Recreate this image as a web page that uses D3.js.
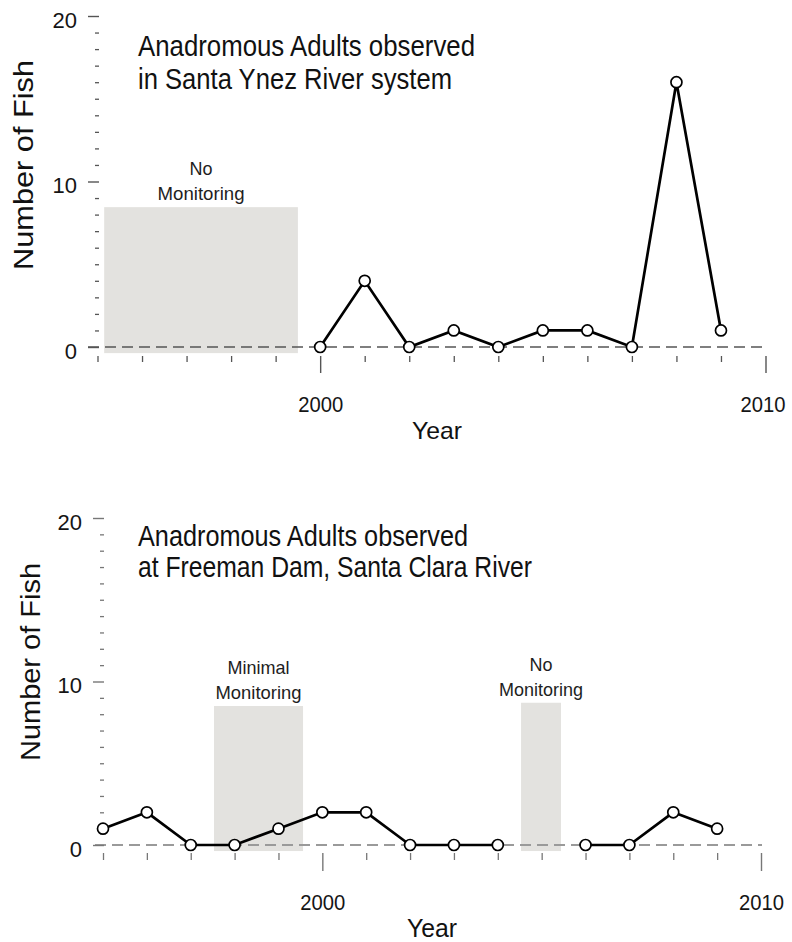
<!DOCTYPE html>
<html>
<head>
<meta charset="utf-8">
<script src="https://cdn.jsdelivr.net/npm/d3@7"></script>
<style>
  html, body { margin: 0; padding: 0; background: #ffffff; }
  svg { display: block; }
</style>
</head>
<body>
<svg id="chart" width="792" height="942"></svg>
<script>
// ---------------- DATA ----------------
const years = [1995, 1996, 1997, 1998, 1999, 2000, 2001, 2002, 2003, 2004, 2005, 2006, 2007, 2008, 2009];
const ynezCounts = [null, null, null, null, null, 0, 4, 0, 1, 0, 1, 1, 0, 16, 1];
const freemanCounts = [1, 2, 0, 0, 1, 2, 2, 0, 0, 0, null, 0, 0, 2, 1];

const yMajorTicks = [0, 10, 20];
const yMinorTicks = [1, 2, 3, 4, 5, 6, 7, 8, 9, 11, 12, 13, 14, 15, 16, 17, 18, 19];
const xMinorTicks = [1995, 1996, 1997, 1998, 1999, 2001, 2002, 2003, 2004, 2005, 2006, 2007, 2008, 2009];
const xMajorTicks = [2000, 2010];

const ynezTitle = ["Anadromous Adults observed", "in Santa Ynez River system"];
const freemanTitle = ["Anadromous Adults observed", "at Freeman Dam, Santa Clara River"];

const ynezGaps = [
  { start: 1995.15, end: 1999.5, top: 8.45, bottom: -0.37, label: ["No", "Monitoring"] }
];
const freemanGaps = [
  { start: 1997.53, end: 1999.56, top: 8.5, bottom: -0.37, label: ["Minimal", "Monitoring"] },
  { start: 2004.53, end: 2005.44, top: 8.7, bottom: -0.37, label: ["No", "Monitoring"] }
];

const yLabelText = "Number of Fish";
const xLabelText = "Year";

// ---------------- LAYOUT ----------------
const FONT = "'Liberation Sans', Arial, Helvetica, sans-serif";
const svg = d3.select("#chart");

const panels = [
  {
    title: ynezTitle, counts: ynezCounts, gaps: ynezGaps,
    xr: [97.5, 765.5], yr: [347, 16],
    axisX: 99, xAxisY: 356, minorX: 6, majorX: 17, xLabelY: 56, xLabelLen: 45,
    tickColor: "#555", zeroColor: "#555", zeroWidth: 1.5, zeroStart: 88, zeroEnd: 767,
    titleX: 138, titleBase: [56, 89], titleLen: [337, 314], titleSize: 29,
    yLab: { x: 33, y: 165, len: 210 },
    year: { x: 437, y: 439, size: 24, len: 50 },
    gapLen: [[23, 87]]
  },
  {
    title: freemanTitle, counts: freemanCounts, gaps: freemanGaps,
    xr: [103, 761], yr: [845, 518],
    axisX: 104, xAxisY: 853, minorX: 7, majorX: 18, xLabelY: 57, xLabelLen: 45,
    tickColor: "#777", zeroColor: "#9a9a9a", zeroWidth: 2, zeroStart: 95, zeroEnd: 762,
    titleX: 138, titleBase: [546, 577], titleLen: [330, 394], titleSize: 29,
    yLab: { x: 40, y: 662, len: 198 },
    year: { x: 432, y: 937, size: 25, len: 50 },
    gapLen: [[62, 86], [23, 84]]
  }
];

const RIGHT_LIMIT = 785;

panels.forEach(p => {
  const x = d3.scaleLinear().domain([1995, 2010]).range(p.xr);
  const y = d3.scaleLinear().domain([0, 20]).range(p.yr);
  const g = svg.append("g");

  // shaded monitoring-gap boxes
  p.gaps.forEach((gap, i) => {
    g.append("rect")
      .attr("x", x(gap.start))
      .attr("y", y(gap.top))
      .attr("width", x(gap.end) - x(gap.start))
      .attr("height", y(gap.bottom) - y(gap.top))
      .attr("fill", "#e3e2df");
    const cx = (x(gap.start) + x(gap.end)) / 2;
    const top = y(gap.top);
    g.append("text")
      .attr("x", cx).attr("y", top - 32)
      .attr("text-anchor", "middle")
      .attr("font-family", FONT).attr("font-size", 19).attr("fill", "#1e1e1e")
      .attr("textLength", p.gapLen[i][0]).attr("lengthAdjust", "spacingAndGlyphs")
      .text(gap.label[0]);
    g.append("text")
      .attr("x", cx).attr("y", top - 7)
      .attr("text-anchor", "middle")
      .attr("font-family", FONT).attr("font-size", 19).attr("fill", "#1e1e1e")
      .attr("textLength", p.gapLen[i][1]).attr("lengthAdjust", "spacingAndGlyphs")
      .text(gap.label[1]);
  });

  // dashed zero line
  g.append("line")
    .attr("x1", p.zeroStart).attr("x2", p.zeroEnd)
    .attr("y1", y(0)).attr("y2", y(0))
    .attr("stroke", p.zeroColor).attr("stroke-width", p.zeroWidth)
    .attr("stroke-dasharray", "11,6");

  // Y axis: minor ticks
  g.append("g")
    .attr("transform", `translate(${p.axisX},0)`)
    .call(d3.axisLeft(y).tickValues(yMinorTicks).tickSize(4).tickFormat(""))
    .call(a => a.select(".domain").remove())
    .call(a => a.selectAll("line").attr("stroke", p.tickColor).attr("stroke-width", 1.3));

  // Y axis: major ticks with labels
  g.append("g")
    .attr("transform", `translate(${p.axisX},0)`)
    .call(d3.axisLeft(y).tickValues(yMajorTicks).tickSize(11).tickFormat(d3.format("d")))
    .call(a => a.select(".domain").remove())
    .call(a => a.selectAll("line").attr("stroke", p.tickColor).attr("stroke-width", 1.4))
    .call(a => a.selectAll("text")
      .attr("x", -22).attr("dy", null).attr("y", 11)
      .attr("font-family", FONT).attr("font-size", 22).attr("fill", "#151515"));

  // X axis: minor ticks
  g.append("g")
    .attr("transform", `translate(0,${p.xAxisY})`)
    .call(d3.axisBottom(x).tickValues(xMinorTicks).tickSize(p.minorX).tickFormat(""))
    .call(a => a.select(".domain").remove())
    .call(a => a.selectAll("line").attr("stroke", p.tickColor).attr("stroke-width", 1.3));

  // X axis: major ticks with labels
  g.append("g")
    .attr("transform", `translate(0,${p.xAxisY})`)
    .call(d3.axisBottom(x).tickValues(xMajorTicks).tickSize(p.majorX).tickFormat(d3.format("d")))
    .call(a => a.select(".domain").remove())
    .call(a => a.selectAll("line").attr("stroke", p.tickColor).attr("stroke-width", 1.4))
    .call(a => a.selectAll("text")
      .attr("dy", null).attr("y", p.xLabelY)
      .attr("dx", d => Math.min(0, RIGHT_LIMIT - (x(d) + p.xLabelLen / 2)))
      .attr("font-family", FONT).attr("font-size", 21.5).attr("fill", "#151515")
      .attr("textLength", p.xLabelLen).attr("lengthAdjust", "spacingAndGlyphs"));

  // data line
  const pts = years.map((yr, i) => ({ year: yr, count: p.counts[i] }));
  const line = d3.line()
    .defined(d => d.count !== null)
    .x(d => x(d.year))
    .y(d => y(d.count));
  g.append("path")
    .datum(pts)
    .attr("d", line)
    .attr("fill", "none")
    .attr("stroke", "#000")
    .attr("stroke-width", 2.7);

  g.selectAll("circle.pt")
    .data(pts.filter(d => d.count !== null))
    .join("circle")
    .attr("class", "pt")
    .attr("cx", d => x(d.year))
    .attr("cy", d => y(d.count))
    .attr("r", 5.5)
    .attr("fill", "#fff")
    .attr("stroke", "#000")
    .attr("stroke-width", 1.7);

  // title
  p.title.forEach((t, i) => {
    g.append("text")
      .attr("x", p.titleX).attr("y", p.titleBase[i])
      .attr("font-family", FONT).attr("font-size", p.titleSize).attr("fill", "#111")
      .attr("textLength", p.titleLen[i]).attr("lengthAdjust", "spacingAndGlyphs")
      .text(t);
  });

  // y label
  g.append("text")
    .attr("transform", `translate(${p.yLab.x},${p.yLab.y}) rotate(-90)`)
    .attr("text-anchor", "middle")
    .attr("font-family", FONT).attr("font-size", 28).attr("fill", "#111")
    .attr("textLength", p.yLab.len).attr("lengthAdjust", "spacingAndGlyphs")
    .text(yLabelText);

  // x label
  g.append("text")
    .attr("x", p.year.x).attr("y", p.year.y)
    .attr("text-anchor", "middle")
    .attr("font-family", FONT).attr("font-size", p.year.size).attr("fill", "#111")
    .attr("textLength", p.year.len).attr("lengthAdjust", "spacingAndGlyphs")
    .text(xLabelText);
});
</script>
</body>
</html>
